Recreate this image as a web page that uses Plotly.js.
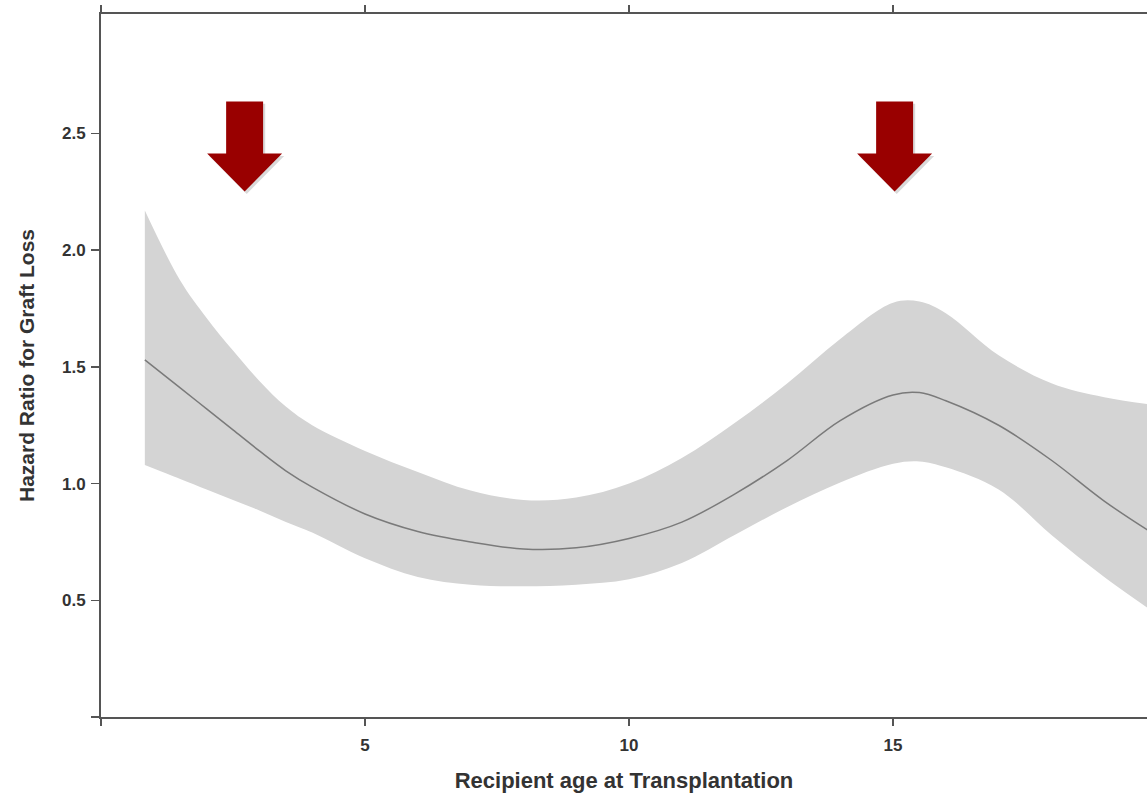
<!DOCTYPE html>
<html>
<head>
<meta charset="utf-8">
<script src="https://cdn.plot.ly/plotly-3.0.1.min.js"></script>
<style>
  html, body { margin: 0; padding: 0; background: #fff; }
  #chart { width: 1147px; height: 794px; }
</style>
</head>
<body>
<div id="chart"></div>
<script>
// Recipient age (years)
const age = [0.83, 1.5, 2, 2.5, 3, 3.5, 4, 5, 6, 7, 8, 9, 10, 11, 12, 13, 14, 15, 15.5, 16, 17, 18, 19, 20];
// Hazard ratio estimate
const hazardRatio = [1.53, 1.41, 1.32, 1.23, 1.14, 1.055, 0.985, 0.87, 0.795, 0.75, 0.72, 0.725, 0.765, 0.835, 0.955, 1.10, 1.27, 1.38, 1.39, 1.355, 1.25, 1.10, 0.925, 0.775];
// Upper confidence bound
const upperCI = [2.17, 1.87, 1.71, 1.57, 1.44, 1.33, 1.25, 1.14, 1.05, 0.97, 0.93, 0.94, 1.00, 1.11, 1.26, 1.43, 1.62, 1.775, 1.78, 1.73, 1.55, 1.43, 1.37, 1.335];
// Lower confidence bound
const lowerCI = [1.08, 1.02, 0.975, 0.93, 0.885, 0.835, 0.79, 0.68, 0.60, 0.567, 0.56, 0.567, 0.59, 0.66, 0.78, 0.90, 1.005, 1.085, 1.095, 1.07, 0.975, 0.78, 0.60, 0.44];

// Axis ticks
const xTickVals = [0, 5, 10, 15];
const xTickText = ['', '5', '10', '15'];
const yTickVals = [0, 0.5, 1.0, 1.5, 2.0, 2.5];
const yTickText = ['', '0.5', '1.0', '1.5', '2.0', '2.5'];

// Highlight arrows (x positions in years)
const arrowX = [2.72, 15.03];

const FONT = 'Liberation Sans, Arial, sans-serif';
const tickFont = {family: FONT, size: 17, color: '#333', weight: 'bold'};

const traces = [
  {
    x: age, y: upperCI, type: 'scatter', mode: 'lines',
    line: {color: 'rgba(0,0,0,0)', width: 0, shape: 'spline', smoothing: 1},
    hoverinfo: 'skip', showlegend: false
  },
  {
    x: age, y: lowerCI, type: 'scatter', mode: 'lines',
    fill: 'tonexty', fillcolor: '#d4d4d4',
    line: {color: 'rgba(0,0,0,0)', width: 0, shape: 'spline', smoothing: 1},
    hoverinfo: 'skip', showlegend: false
  },
  {
    x: age, y: hazardRatio, type: 'scatter', mode: 'lines',
    line: {color: '#7a7a7a', width: 1.5, shape: 'spline', smoothing: 1},
    showlegend: false
  }
];

// Arrow geometry (data units)
const shaftHalf = 0.35, headHalf = 0.71, yTop = 2.637, yBase = 2.414, yTip = 2.251;
function arrowPath(cx, dx, dy) {
  const p = [
    [cx - shaftHalf, yTop], [cx + shaftHalf, yTop], [cx + shaftHalf, yBase],
    [cx + headHalf, yBase], [cx, yTip], [cx - headHalf, yBase], [cx - shaftHalf, yBase]
  ].map(([a, b]) => (a + dx) + ',' + (b + dy));
  return 'M' + p.join(' L') + ' Z';
}
const shapes = [];
arrowX.forEach(cx => {
  shapes.push({type: 'path', xref: 'x', yref: 'y', path: arrowPath(cx, 0.04, -0.01),
    fillcolor: 'rgba(0,0,0,0.15)', line: {width: 0}, layer: 'above'});
  shapes.push({type: 'path', xref: 'x', yref: 'y', path: arrowPath(cx, 0, 0),
    fillcolor: '#990000', line: {width: 0}, layer: 'above'});
});

const layout = {
  width: 1147, height: 794,
  margin: {l: 101, r: 0, t: 14, b: 77},
  paper_bgcolor: '#ffffff', plot_bgcolor: '#ffffff',
  showlegend: false,
  xaxis: {
    range: [0, 19.81],
    tickvals: xTickVals, ticktext: xTickText,
    ticks: 'outside', ticklen: 7, tickwidth: 1.5, tickcolor: '#555',
    showline: true, linecolor: '#555', linewidth: 2, mirror: 'ticks',
    showgrid: false, zeroline: false,
    tickfont: tickFont, ticklabelstandoff: 5,
    title: {text: 'Recipient age at Transplantation', standoff: 18,
      font: {family: FONT, size: 22, color: '#333', weight: 'bold'}}
  },
  yaxis: {
    range: [0, 3.012],
    tickvals: yTickVals, ticktext: yTickText,
    ticks: 'outside', ticklen: 8, tickwidth: 1.5, tickcolor: '#555',
    showline: true, linecolor: '#555', linewidth: 2, mirror: false,
    showgrid: false, zeroline: false,
    tickfont: tickFont, ticklabelstandoff: 2,
    title: {text: 'Hazard Ratio for Graft Loss', standoff: 22,
      font: {family: FONT, size: 21, color: '#333', weight: 'bold'}}
  },
  shapes: shapes
};

Plotly.newPlot('chart', traces, layout, {displayModeBar: false, staticPlot: true});
</script>
</body>
</html>
